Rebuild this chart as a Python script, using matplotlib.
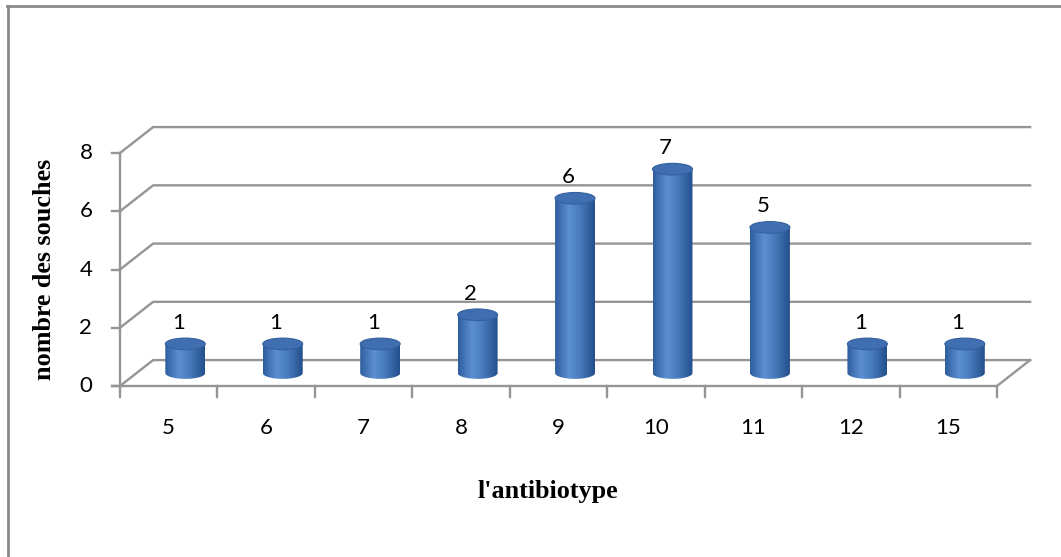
import numpy as np
import matplotlib.pyplot as plt
from matplotlib.patches import Ellipse, Polygon
from matplotlib.colors import LinearSegmentedColormap
from matplotlib.lines import Line2D

categories = ['5', '6', '7', '8', '9', '10', '11', '12', '15']
counts = [1, 1, 1, 2, 6, 7, 5, 1, 1]
yticks = [0, 2, 4, 6, 8]

# depth offset of the back wall and cylinder size, in data units
DX, DY = 0.34, 0.89
W, H = 0.205, 0.2

GRID = '#959595'
NUM_FONT = 'Lato'
NUM_SIZE = 16

fig = plt.figure(figsize=(10.61, 5.57), dpi=100)
ax = fig.add_axes([0, 0, 1, 1])
ax.axis('off')

n = len(categories)

# back wall gridlines with the left side wall diagonals
for v in yticks:
    ax.plot([0, DX, n + DX], [v, v + DY, v + DY], color=GRID, lw=1.7, zorder=1)
    ax.plot([-0.08, 0], [v, v], color=GRID, lw=1.7, zorder=1)
    ax.text(-0.35, v, str(v), ha='center', va='center', fontsize=NUM_SIZE, family=NUM_FONT)

# value axis and floor front edge
ax.plot([0, 0], [0, yticks[-1]], color=GRID, lw=1.7, zorder=1)
ax.plot([-0.08, n, n + DX], [0, 0, DY], color=GRID, lw=1.7, zorder=1)
for i in range(n + 1):
    ax.plot([i, i], [0, -0.38], color=GRID, lw=1.7, zorder=1)
for i, c in enumerate(categories):
    ax.text(i + 0.5, -1.44, c, ha='center', va='center', fontsize=NUM_SIZE, family=NUM_FONT)

# cylinders
cmap = LinearSegmentedColormap.from_list(
    'cyl', [(0, '#2f5d9d'), (0.35, '#5b8fd2'), (0.6, '#4a7dc0'), (1, '#234f8b')])
grad = np.linspace(0, 1, 256).reshape(1, -1)
t = np.linspace(np.pi, 2 * np.pi, 60)
for i, v in enumerate(counts):
    cx = i + 0.5 + DX / 2
    y0 = DY / 2
    y1 = v + DY / 2
    arc = np.column_stack([cx + W * np.cos(t), y0 + H * np.sin(t)])
    pts = np.vstack([[cx - W, y1], arc, [cx + W, y1]])
    body = Polygon(pts, closed=True, facecolor='none', edgecolor='none')
    ax.add_patch(body)
    im = ax.imshow(grad, cmap=cmap, extent=[cx - W, cx + W, y0 - H, y1],
                   aspect='auto', zorder=3)
    im.set_clip_path(body)
    ax.add_patch(Ellipse((cx, y1), 2 * W, 2 * H, facecolor='#3f6fb1',
                         edgecolor='#34609e', lw=0.8, zorder=4))
    ax.text(cx - 0.07, y1 + 0.72, str(v), ha='center', va='center',
            fontsize=NUM_SIZE, family=NUM_FONT, zorder=5)

ax.set_xlim(-1.2315, 9.657)
ax.set_ylim(-5.871, 13.253)

fig.text(0.5165, 0.1167, "l'antibiotype", ha='center', va='center',
         fontsize=18.8, fontweight='bold', family='Liberation Serif')
fig.text(0.0424, 0.517, 'nombre des souches', ha='center', va='center',
         rotation=90, fontsize=18.8, fontweight='bold', family='Liberation Serif')

# chart area border (top and left edges)
fig.add_artist(Line2D([7 / 1061, 1], [0.989, 0.989], color='#8a8a8a', lw=2,
                      transform=fig.transFigure))
fig.add_artist(Line2D([8 / 1061, 8 / 1061], [0, 0.989], color='#8a8a8a', lw=2,
                      transform=fig.transFigure))

fig.savefig('out.png', dpi=100)
